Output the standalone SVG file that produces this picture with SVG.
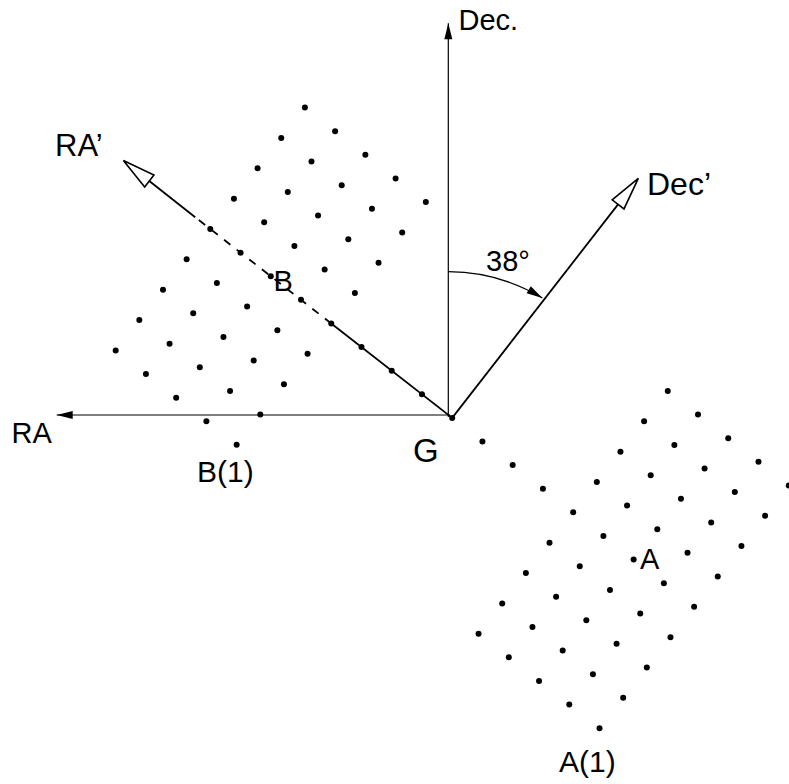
<svg xmlns="http://www.w3.org/2000/svg" xmlns:xlink="http://www.w3.org/1999/xlink" width="789" height="784" viewBox="0 0 789 784">
<style>
  .ax{stroke:#000;stroke-width:1.2;fill:none}
  .rot{stroke:#000;stroke-width:1.8;fill:none}
  .dash{stroke-dasharray:8 8}
  .lbl{font-family:"Liberation Sans",Arial,Helvetica,sans-serif;fill:#000}
  .dot{fill:#000}
</style>
<defs>
  <marker id="fa" markerUnits="userSpaceOnUse" markerWidth="20" markerHeight="12" refX="0" refY="0" orient="auto" overflow="visible">
    <path d="M-16,-4 L0,0 L-16,4 Z" fill="#000" stroke="none"/>
  </marker>
  <marker id="oa" markerUnits="userSpaceOnUse" markerWidth="40" markerHeight="20" refX="0" refY="0" orient="auto" overflow="visible">
    <path d="M0,-7.5 L33,0 L0,7.5 Z" fill="#fff" stroke="#000" stroke-width="1.6" stroke-linejoin="miter"/>
  </marker>
  <g id="grid" class="dot">
    <circle cx="-34.12" cy="168.62" r="3"/><circle cx="-10.47" cy="138.27" r="3"/><circle cx="13.18" cy="107.92" r="3"/><circle cx="36.83" cy="77.57" r="3"/><circle cx="60.48" cy="47.22" r="3"/><circle cx="84.13" cy="16.87" r="3"/><circle cx="107.78" cy="-13.48" r="3"/><circle cx="131.43" cy="-43.83" r="3"/><circle cx="155.08" cy="-74.18" r="3"/>
    <circle cx="-64.36" cy="145.01" r="3"/><circle cx="-40.71" cy="114.66" r="3"/><circle cx="-17.06" cy="84.31" r="3"/><circle cx="6.59" cy="53.96" r="3"/><circle cx="30.24" cy="23.61" r="3"/><circle cx="53.89" cy="-6.74" r="3"/><circle cx="77.54" cy="-37.09" r="3"/><circle cx="101.19" cy="-67.44" r="3"/><circle cx="124.84" cy="-97.79" r="3"/>
    <circle cx="-94.6" cy="121.4" r="3"/><circle cx="-70.95" cy="91.05" r="3"/><circle cx="-47.3" cy="60.7" r="3"/><circle cx="-23.65" cy="30.35" r="3"/><circle cx="0" cy="0" r="3"/><circle cx="23.65" cy="-30.35" r="3"/><circle cx="47.3" cy="-60.7" r="3"/><circle cx="70.95" cy="-91.05" r="3"/><circle cx="94.6" cy="-121.4" r="3"/>
    <circle cx="-124.84" cy="97.79" r="3"/><circle cx="-101.19" cy="67.44" r="3"/><circle cx="-77.54" cy="37.09" r="3"/><circle cx="-53.89" cy="6.74" r="3"/><circle cx="-30.24" cy="-23.61" r="3"/><circle cx="-6.59" cy="-53.96" r="3"/><circle cx="17.06" cy="-84.31" r="3"/><circle cx="40.71" cy="-114.66" r="3"/><circle cx="64.36" cy="-145.01" r="3"/>
    <circle cx="-155.08" cy="74.18" r="3"/><circle cx="-131.43" cy="43.83" r="3"/><circle cx="-107.78" cy="13.48" r="3"/><circle cx="-84.13" cy="-16.87" r="3"/><circle cx="-60.48" cy="-47.22" r="3"/><circle cx="-36.83" cy="-77.57" r="3"/><circle cx="-13.18" cy="-107.92" r="3"/><circle cx="10.47" cy="-138.27" r="3"/><circle cx="34.12" cy="-168.62" r="3"/>
  </g>
</defs>
<rect width="789" height="784" fill="#fff"/>

<g id="connectors">
  <line class="ax" x1="448.3" y1="417" x2="448.3" y2="23.3" marker-end="url(#fa)"/>
  <line class="ax" x1="450" y1="415" x2="56.7" y2="415" marker-end="url(#fa)"/>
  <path class="ax" d="M448.3,271.7 A184.3,184.3 0 0 1 542.4,298" marker-end="url(#fa)"/>
  <line class="rot" x1="452.2" y1="417.9" x2="331.24" y2="323.46"/>
  <line class="rot dash" x1="331.24" y1="323.46" x2="195.2" y2="217.2"/>
  <line class="rot" x1="195.2" y1="217.2" x2="149.3" y2="181" marker-end="url(#oa)"/>
  <line class="rot" x1="452.2" y1="417.9" x2="618.06" y2="204.36" marker-end="url(#oa)"/>
</g>

<g id="groupB">
  <use xlink:href="#grid" href="#grid" transform="translate(270.76,276.24)"/>
</g>
<g id="groupA">
  <use xlink:href="#grid" href="#grid" transform="translate(633.64,559.56)"/>
</g>
<g id="axisdots" class="dot">
  <circle cx="452.2" cy="417.9" r="3"/>
  <circle cx="421.96" cy="394.29" r="3"/>
  <circle cx="391.72" cy="370.68" r="3"/>
  <circle cx="361.48" cy="347.07" r="3"/>
  <circle cx="482.44" cy="441.51" r="3"/>
  <circle cx="512.68" cy="465.12" r="3"/>
  <circle cx="542.92" cy="488.73" r="3"/>
</g>

<g id="labels" class="lbl">
  <text x="458.5" y="30" font-size="29">Dec.</text>
  <text x="647" y="194.5" font-size="32">Dec’</text>
  <text x="486" y="270.7" font-size="29">38°</text>
  <text x="55" y="155.7" font-size="31">RA’</text>
  <text x="11.5" y="443.3" font-size="29">RA</text>
  <text x="413" y="461.7" font-size="33">G</text>
  <text x="273.5" y="290.7" font-size="29">B</text>
  <text x="640" y="569" font-size="29">A</text>
  <text x="197" y="481.7" font-size="30">B(1)</text>
  <text x="559" y="771.7" font-size="30">A(1)</text>
</g>
</svg>
